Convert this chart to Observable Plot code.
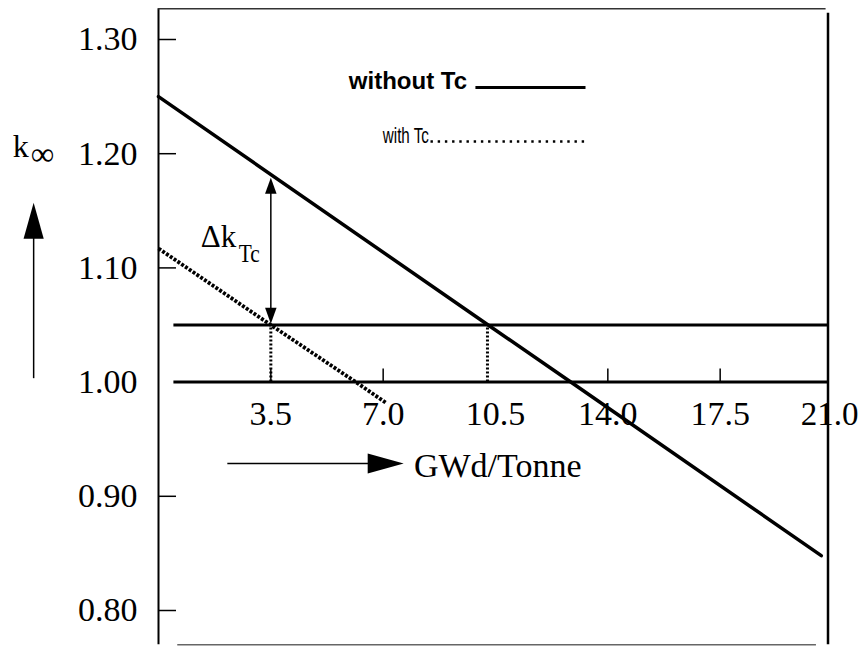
<!DOCTYPE html>
<html>
<head>
<meta charset="utf-8">
<script src="https://cdn.jsdelivr.net/npm/d3@7"></script>
<script src="https://cdn.jsdelivr.net/npm/@observablehq/plot@0.6"></script>
<style>
  html, body { margin: 0; padding: 0; background: #fff; }
  #chart svg { display: block; }
</style>
</head>
<body>
<div id="chart"></div>
<script>
// ---- chart values ----
// k-infinity vs burnup (GWd/Tonne)
const withoutTcBurnup = [0, 10.27, 12.8, 20.65];
const withoutTcK      = [1.250, 1.050, 1.001, 0.848];
const withTcBurnup    = [0, 3.5, 6.15, 7.08];
const withTcK         = [1.117, 1.050, 1.000, 0.982];

const xTickValues = [3.5, 7.0, 10.5, 14.0, 17.5, 21.0];
const xTickLabels = ["3.5", "7.0", "10.5", "14.0", "17.5", "21.0"];
const xTickMarkValues = [3.5, 7.0, 14.0, 17.5];
const yTickValues = [0.80, 0.90, 1.00, 1.10, 1.20, 1.30];
const yTickLabels = ["0.80", "0.90", "1.00", "1.10", "1.20", "1.30"];
const yTickMarkValues = [0.80, 0.90, 1.10, 1.20, 1.30];

const referenceK = [1.00, 1.05];          // horizontal reference levels
const dropBurnups = [3.5, 10.25];         // where each curve reaches k = 1.05
const deltaK = {burnup: 3.5, from: 1.0512, to: 1.179};

const legendLabels = ["without Tc", "with Tc"];
const axisLabelX = "GWd/Tonne";

// ---- annotation anchors (data units) ----
const frame = {x0: 0, x1: 20.86, yBottom: 0.770, yTop: 1.327};
const refLineStart = 0.48;
const legendSolid = {x: 5.93, y: 1.2564, x1: 9.89, x2: 13.32, ly: 1.258};
const legendDotted = {x: 6.99, y: 1.2098, x1: 8.49, x2: 13.41, ly: 1.2107};
const kLabel = {kx: -4.54, ky: 1.1967, ix: -3.98, iy: 1.1905};
const upArrow = {x: -3.89, y1: 1.003, tip: 1.157};
const rightArrow = {y: 0.9287, x1: 2.16, tip: 7.64};
const gwdLabel = {x: 7.96, y: 0.9165};
const dkLabel = {x: 1.32, y: 1.1187, sx: 2.5, sy: 1.1050};

const withoutTc = withoutTcBurnup.map((b, i) => ({b, k: withoutTcK[i]}));
const withTc = withTcBurnup.map((b, i) => ({b, k: withTcK[i]}));

// filled arrowhead symbol, tip at the anchor point, pointing up
const head = (ratio) => ({
  draw(ctx, size) {
    const L = Math.sqrt(size);
    const w = L * ratio;
    ctx.moveTo(0, 0);
    ctx.lineTo(w, L);
    ctx.lineTo(-w, L);
    ctx.closePath();
  }
});
const rFor = (len) => len / Math.sqrt(Math.PI);

const serif = "'Liberation Serif', 'Times New Roman', Times, serif";
const sans = "'Liberation Sans', Arial, Helvetica, sans-serif";

const lastX = xTickValues.length - 1;

const chart = Plot.plot({
  width: 859,
  height: 647,
  marginLeft: 158,
  marginRight: 27,
  marginTop: 39,
  marginBottom: 37,
  x: {domain: [0, 21], axis: null},
  y: {domain: [0.80, 1.30], label: null},
  style: {fontFamily: serif, fontSize: "34px", background: "white", color: "black"},
  marks: [
    // frame
    Plot.ruleX([frame.x0], {y1: frame.yBottom, y2: frame.yTop, strokeWidth: 2}),
    Plot.ruleY([frame.yTop], {x1: frame.x0, x2: 20.8, strokeWidth: 1.5, stroke: "#333"}),
    Plot.ruleY([frame.yBottom], {x1: 0.6, x2: 20.5, strokeWidth: 1.5, stroke: "#666"}),
    // y axis labels and inward ticks
    Plot.axisY(yTickValues, {
      anchor: "left", label: null, tickSize: 0, tickPadding: 21,
      tickFormat: (d) => yTickLabels[yTickValues.indexOf(d)],
      fontSize: 34, fontFamily: serif
    }),
    Plot.ruleY(yTickMarkValues, {x1: 0, x2: 0.56, strokeWidth: 1.5}),
    // reference levels
    Plot.ruleY(referenceK, {x1: refLineStart, x2: frame.x1, strokeWidth: 3}),
    // x ticks (upward) and labels under the k = 1.00 line
    Plot.ruleX(xTickMarkValues, {y1: 1.0, y2: 1.0114, strokeWidth: 1.5}),
    Plot.text(xTickValues.slice(0, lastX), {
      x: (d) => d, y: 1.0, text: (d, i) => xTickLabels[i],
      dy: 43, lineAnchor: "bottom", fontSize: 34, fontFamily: serif
    }),
    Plot.text(xTickValues.slice(lastX), {
      x: (d) => d, y: 1.0, text: () => xTickLabels[lastX],
      dx: -3, dy: 43, lineAnchor: "bottom", fontSize: 33, fontFamily: serif
    }),
    // right border (drawn over the last label, as in the reference)
    Plot.ruleX([frame.x1], {y1: frame.yBottom, y2: 1.323, strokeWidth: 2.5}),
    // drop lines
    Plot.ruleX(dropBurnups, {y1: 1.0, y2: 1.05, strokeWidth: 3, strokeDasharray: "2,2"}),
    // curves
    Plot.line(withoutTc, {x: "b", y: "k", strokeWidth: 3.5}),
    Plot.line(withTc, {x: "b", y: "k", strokeWidth: 3.8, strokeDasharray: "3,1.6", strokeLinecap: "butt"}),
    // delta k double arrow
    Plot.ruleX([deltaK.burnup], {y1: deltaK.from + 0.01, y2: deltaK.to - 0.01, strokeWidth: 1.5}),
    Plot.dot([deltaK.to], {x: deltaK.burnup, y: (d) => d, symbol: head(0.36), r: rFor(16), fill: "black", stroke: "none"}),
    Plot.dot([deltaK.from], {x: deltaK.burnup, y: (d) => d, symbol: head(0.36), r: rFor(16), rotate: 180, fill: "black", stroke: "none"}),
    Plot.text(["\u0394k"], {x: dkLabel.x, y: dkLabel.y, text: (d) => d, textAnchor: "start", lineAnchor: "bottom", fontSize: 31, fontFamily: serif}),
    Plot.text(["Tc"], {x: dkLabel.sx, y: dkLabel.sy, text: (d) => d, textAnchor: "start", lineAnchor: "bottom", fontSize: 26, fontFamily: serif}),
    // k-infinity label and up arrow
    Plot.text(["k"], {x: kLabel.kx, y: kLabel.ky, text: (d) => d, textAnchor: "start", lineAnchor: "bottom", fontSize: 32, fontFamily: serif}),
    Plot.text(["\u221E"], {x: kLabel.ix, y: kLabel.iy, text: (d) => d, textAnchor: "start", lineAnchor: "bottom", fontSize: 33, fontFamily: serif}),
    Plot.ruleX([upArrow.x], {y1: upArrow.y1, y2: upArrow.tip - 0.02, strokeWidth: 1.5}),
    Plot.dot([upArrow.tip], {x: upArrow.x, y: (d) => d, symbol: head(0.28), r: rFor(36), fill: "black", stroke: "none"}),
    // burnup axis arrow and label
    Plot.ruleY([rightArrow.y], {x1: rightArrow.x1, x2: rightArrow.tip - 0.6, strokeWidth: 1.5}),
    Plot.dot([rightArrow.tip], {x: (d) => d, y: rightArrow.y, symbol: head(0.28), r: rFor(36), rotate: 90, fill: "black", stroke: "none"}),
    Plot.text([axisLabelX], {x: gwdLabel.x, y: gwdLabel.y, text: (d) => d, textAnchor: "start", lineAnchor: "bottom", fontSize: 34, fontFamily: serif}),
    // legend
    Plot.text([legendLabels[0]], {x: legendSolid.x, y: legendSolid.y, text: (d) => d, textAnchor: "start", lineAnchor: "bottom", fontSize: 24, fontWeight: "bold", fontFamily: sans}),
    Plot.ruleY([legendSolid.ly], {x1: legendSolid.x1, x2: legendSolid.x2, strokeWidth: 3}),
    Plot.text([legendLabels[1]], {x: legendDotted.x, y: legendDotted.y, text: (d) => d, textAnchor: "start", lineAnchor: "bottom", fontSize: 22, fontWeight: 500, fontFamily: "'Liberation Sans Narrow', 'Arial Narrow', " + sans}),
    Plot.ruleY([legendDotted.ly], {x1: legendDotted.x1, x2: legendDotted.x2, strokeWidth: 2.6, strokeDasharray: "2.4,4.8"})
  ]
});

// condense the narrow-font texts to their measured widths
d3.select(chart).selectAll("text")
  .filter(function () { return this.textContent === "with Tc"; })
  .attr("textLength", 46).attr("lengthAdjust", "spacingAndGlyphs");
d3.select(chart).selectAll("text")
  .filter(function () { return this.textContent === "Tc"; })
  .attr("textLength", 21).attr("lengthAdjust", "spacingAndGlyphs");

document.getElementById("chart").appendChild(chart);
</script>
</body>
</html>
